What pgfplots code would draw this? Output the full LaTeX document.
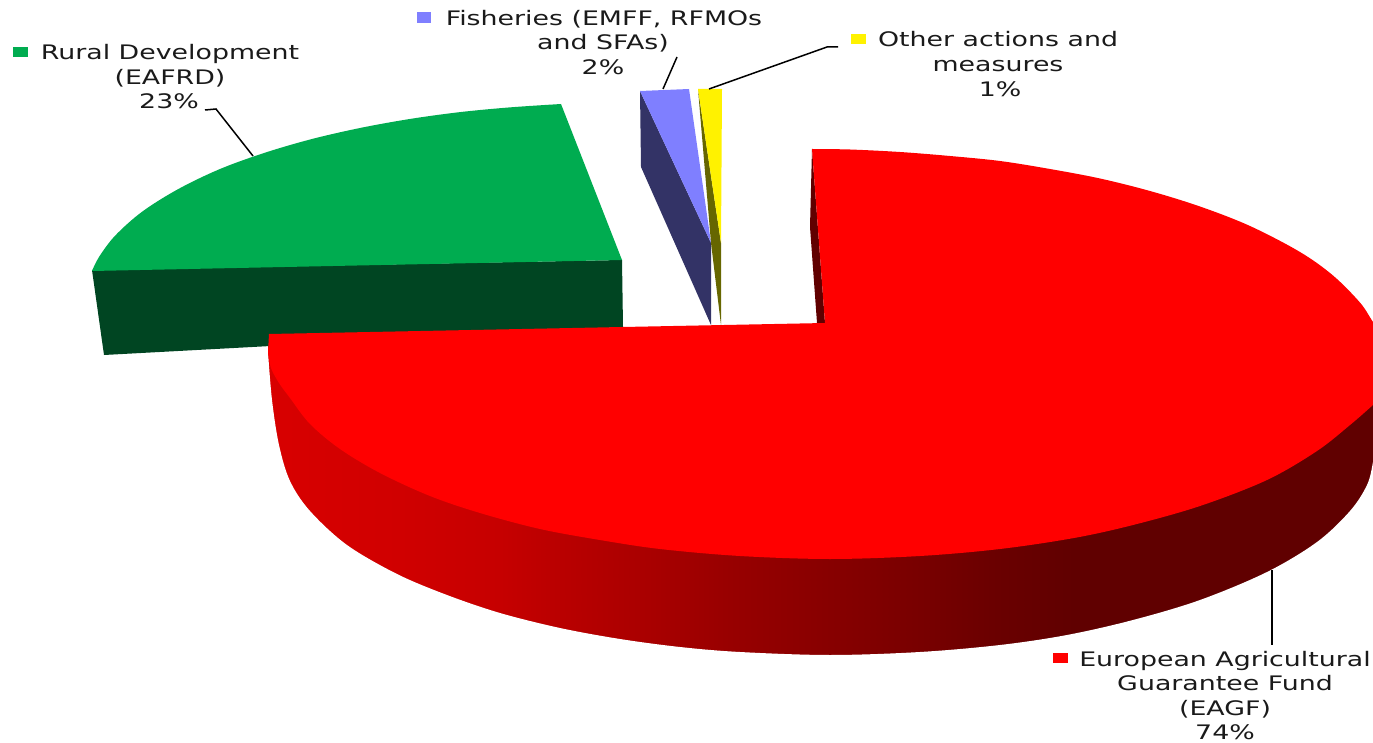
\documentclass[border=0pt]{standalone}
\usepackage{pgfplots}
\pgfplotsset{compat=1.18}
\usepackage{fontspec}
\setmainfont[FakeStretch=1.34]{DejaVu Sans}
\definecolor{lab}{HTML}{1A1A1A}
\definecolor{grn}{HTML}{00AC50}
\definecolor{grnd}{HTML}{004522}
\definecolor{blu}{HTML}{7F7FFF}
\definecolor{blud}{HTML}{333366}
\definecolor{olv}{HTML}{666600}
\definecolor{redd}{HTML}{600000}
\tikzset{lbl/.style={anchor=base,text=lab,inner sep=0pt,font=\fontsize{20}{24}\selectfont}}
\begin{document}
\begin{tikzpicture}
\begin{axis}[
    scale only axis,width=1373pt,height=743pt,
    xmin=0,xmax=1373,ymin=0,ymax=743,y dir=reverse,
    hide axis,
    colormap={redside}{rgb255(0cm)=(0,0,0); rgb255(1cm)=(255,0,0)},
    point meta min=0,point meta max=255,
  ]
% red outer wall, runs past its edges, the white fill below trims it
\addplot[patch,patch type=rectangle,shader=interp,point meta=explicit] coordinates {
 (268,340) [216] (268,470) [216] (300,520) [214] (300,390) [214]
 (300,390) [214] (300,520) [214] (350,560) [211] (350,440) [211]
 (350,440) [211] (350,560) [211] (400,585) [208] (400,470) [208]
 (400,470) [208] (400,585) [208] (500,620) [198] (500,505) [198]
 (500,505) [198] (500,620) [198] (557,637) [186] (557,520) [186]
 (557,520) [186] (557,637) [186] (653,655) [168] (653,535) [168]
 (653,535) [168] (653,655) [168] (730,662) [152] (730,545) [152]
 (730,545) [152] (730,662) [152] (825,665) [136] (825,548) [136]
 (825,548) [136] (825,665) [136] (921,662) [120] (921,547) [120]
 (921,547) [120] (921,662) [120] (997,655) [106] (997,541) [106]
 (997,541) [106] (997,655) [106] (1074,643) [96] (1074,530) [96]
 (1074,530) [96] (1074,643) [96] (1200,610) [96] (1200,497) [96]
 (1200,497) [96] (1200,610) [96] (1300,560) [96] (1300,450) [96]
 (1300,450) [96] (1300,560) [96] (1373,530) [96] (1373,395) [96]
};
\addplot[fill=white,draw=none,smooth,tension=0.55] coordinates {
 (268,352)(272,400)(279,445)(290,481)(310,511)(347,545)(397,574)(447,595)(500,613)
 (560,628)(620,639)(680,647)(740,652)(830,655)(920,652)(1000,645)(1067,635)(1133,620)(1200,600)
 (1267,572)(1317,542)(1350,511)(1367,485)(1373,462)(1376,440)
} -- (axis cs:1400,440) -- (axis cs:1400,760) -- (axis cs:-10,760) -- (axis cs:-10,352) -- cycle;
% green slice
\addplot[fill=grnd,draw=none] coordinates {(92,270)(622,260)(623,327)(104,355)} --cycle;
\addplot[fill=grn,draw=none,smooth,tension=0.55] coordinates {
 (561,104)(511,107.3)(461,112)(411,118.8)(361,127.8)(312,139)(265,152.7)(220,169)(178,189.2)(142,211.8)(115,235.8)(99,257)(92,271)
} -- (axis cs:622,260) -- cycle;
% fisheries
\addplot[fill=blud,draw=none] coordinates {(640,91)(641,167)(711,325)(711,243)} --cycle;
\addplot[fill=blu,draw=none] coordinates {(640,91)(689,89)(711,243)} --cycle;
% other
\addplot[fill=olv,draw=none] coordinates {(698,89)(721,243)(721,325)(711,243)} --cycle;
\addplot[fill=yellow,draw=none] coordinates {(698,89)(722,89)(721,243)} --cycle;
% red inner wall
\addplot[fill=redd,draw=none] coordinates {(812,149)(810,227)(817,323)(825,323)} --cycle;
% red top
\addplot[fill=red,draw=none,smooth,tension=0.55] coordinates {
 (812,149)(850,149.5)(900,152)(950,156)(1000,161)(1050,169)(1100,178.5)(1150,191)(1200,206.5)(1250,226)(1300,252)(1333,275.5)(1360,302.6)(1373,322)
 (1395,355)(1395,385)(1373,405)(1350,425)(1317,451)(1267,480)(1200,506)(1133,525)(1074,538)(1000,549)(920,556)(830,559)
 (740,556)(660,549)(600,540)(540,529)(480,513)(430,496)(380,473)(340,449)(310,424)(290,398)(279,383)(271,368)(268,352)
} -- (axis cs:269,334) -- (axis cs:825,323) -- cycle;
% leaders
\addplot[black,line width=1.5pt] coordinates {(205,110)(216,109)(253,156)};
\addplot[black,line width=1.5pt] coordinates {(677,57)(663,89)};
\addplot[black,line width=1.5pt] coordinates {(838,47)(827,47)(709,89)};
\addplot[black,line width=1.5pt] coordinates {(1272,570)(1272,645)};
% keys
\addplot[fill=grn,draw=none] coordinates {(13,47)(28,47)(28,57)(13,57)} --cycle;
\addplot[fill=blu,draw=none] coordinates {(417,12)(431,12)(431,23)(417,23)} --cycle;
\addplot[fill=yellow,draw=none] coordinates {(851,34)(866,34)(866,44)(851,44)} --cycle;
\addplot[fill=red,draw=none] coordinates {(1053,653)(1068,653)(1068,663)(1053,663)} --cycle;
% labels
\node[lbl] at (axis cs:170,60) {Rural Development};
\node[lbl] at (axis cs:170,85) {(EAFRD)};
\node[lbl] at (axis cs:169,109) {23\%};
\node[lbl] at (axis cs:604,26) {Fisheries (EMFF, RFMOs};
\node[lbl] at (axis cs:603,50) {and SFAs)};
\node[lbl] at (axis cs:603,75) {2\%};
\node[lbl] at (axis cs:998,47) {Other actions and};
\node[lbl] at (axis cs:998,72) {measures};
\node[lbl] at (axis cs:1000,97) {1\%};
\node[lbl] at (axis cs:1225,666) {European Agricultural};
\node[lbl] at (axis cs:1225,690) {Guarantee Fund};
\node[lbl] at (axis cs:1225,715) {(EAGF)};
\node[lbl] at (axis cs:1225,739) {74\%};
\end{axis}
\pgfresetboundingbox
\path (current axis.south west) rectangle (current axis.north east);
\end{tikzpicture}
\end{document}
